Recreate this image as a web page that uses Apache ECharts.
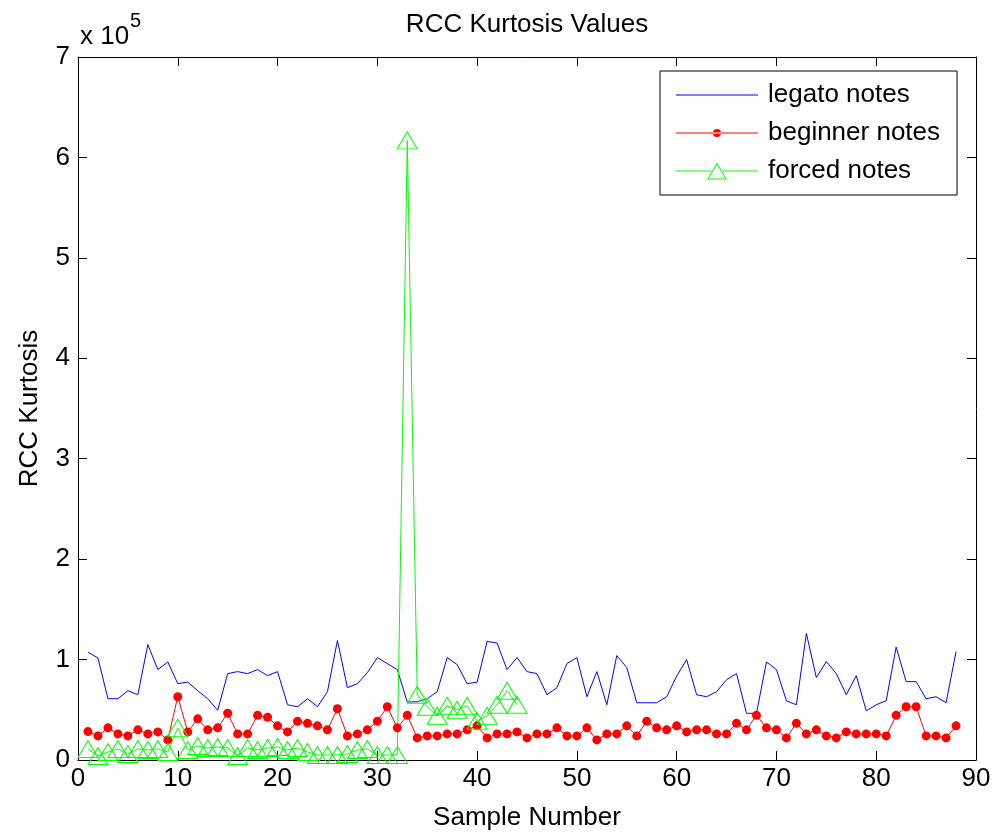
<!DOCTYPE html>
<html>
<head>
<meta charset="utf-8">
<script src="https://cdn.jsdelivr.net/npm/echarts@6/dist/echarts.min.js"></script>
<style>
html,body{margin:0;padding:0;background:#fff;}
#chart{width:997px;height:836px;}
</style>
</head>
<body>
<div id="chart"></div>
<script>
// Values in units of 10^5; sample numbers start at 1
var legato = [1.075,1.016,0.61,0.61,0.69,0.65,1.15,0.90,0.976,0.76,
  0.775,0.69,0.61,0.495,0.86,0.88,0.86,0.90,0.84,0.88,
  0.55,0.53,0.61,0.53,0.68,1.19,0.72,0.76,0.87,1.02,
  0.96,0.90,0.577,0.58,0.61,0.68,1.02,0.95,0.76,0.775,
  1.18,1.165,0.90,1.02,0.88,0.86,0.65,0.72,0.96,1.02,
  0.63,0.88,0.55,1.04,0.92,0.57,0.57,0.57,0.63,0.835,
  1.0,0.65,0.63,0.68,0.80,0.86,0.465,0.465,0.976,0.90,
  0.59,0.55,1.26,0.82,0.98,0.86,0.65,0.84,0.49,0.55,
  0.59,1.125,0.78,0.78,0.61,0.63,0.57,1.08];
var beginner = [0.283,0.24,0.32,0.26,0.24,0.30,0.26,0.28,0.20,0.63,
  0.28,0.41,0.30,0.32,0.465,0.26,0.26,0.445,0.425,0.34,
  0.28,0.385,0.365,0.34,0.30,0.51,0.24,0.26,0.30,0.385,
  0.53,0.32,0.445,0.22,0.24,0.24,0.26,0.26,0.30,0.34,
  0.22,0.26,0.26,0.28,0.22,0.26,0.26,0.32,0.24,0.24,
  0.32,0.20,0.26,0.26,0.34,0.24,0.385,0.32,0.30,0.34,
  0.28,0.30,0.30,0.26,0.26,0.365,0.30,0.445,0.32,0.30,
  0.22,0.365,0.26,0.30,0.24,0.22,0.28,0.26,0.26,0.26,
  0.24,0.445,0.53,0.53,0.24,0.24,0.22,0.34];
var forced = [0.11,0.04,0.08,0.11,0.06,0.11,0.10,0.11,0.08,0.32,
  0.10,0.14,0.12,0.13,0.12,0.04,0.12,0.10,0.12,0.13,
  0.10,0.12,0.08,0.05,0.05,0.05,0.06,0.10,0.11,0.05,
  0.05,0.05,6.17,0.65,0.53,0.44,0.54,0.50,0.54,0.39,
  0.44,0.55,0.69,0.55];
var seriesNames = ['legato notes','beginner notes','forced notes'];
var xTicks = {min:0, max:90, interval:10};
var yTicks = {min:0, max:7, interval:1};

function pairs(arr){ return arr.map(function(v,i){ return [i+1, v]; }); }

var FONT = '"Liberation Sans", Arial, sans-serif';
var FS = 26;

// legend icons: line (+ marker) drawn in a 87x18 box, line occupying 0..82
var BOX = 'M0,0h0.01v0.01h-0.01z M86.99,17.99h0.01v0.01h-0.01z ';
var iconLegato = 'path://' + BOX + 'M0,8.5h82v1h-82z';
var iconBeginner = 'path://' + BOX + 'M0,8.5h82v1h-82z M37,9a4,4 0 1,0 8,0a4,4 0 1,0 -8,0z';
var iconForced = 'path://' + BOX + 'M0,8.5h35v1h-35z M47,8.5h35v1h-35z ' +
  'M41,0.5L51,17.5L31,17.5z M41,2.5L32.8,16.5L49.2,16.5z';

var chart = echarts.init(document.getElementById('chart'), null, {renderer:'canvas'});
var axisCommon = {
  axisLine:{show:true, onZero:false, lineStyle:{color:'#000', width:1}},
  axisTick:{show:true, inside:true, length:9, lineStyle:{color:'#000', width:1}},
  splitLine:{show:false}
};
chart.setOption({
  animation:false,
  backgroundColor:'#fff',
  grid:{left:78, right:21, top:57, bottom:72, containLabel:false},
  xAxis:[
    Object.assign({type:'value', min:xTicks.min, max:xTicks.max, interval:xTicks.interval, position:'bottom',
      name:'Sample Number', nameLocation:'middle', nameGap:45,
      nameTextStyle:{color:'#000', fontSize:FS, fontFamily:FONT},
      axisLabel:{color:'#000', fontSize:FS, fontFamily:FONT, margin:6}}, axisCommon),
    Object.assign({type:'value', min:xTicks.min, max:xTicks.max, interval:xTicks.interval, position:'top',
      axisLabel:{show:false}}, axisCommon)
  ],
  yAxis:[
    Object.assign({type:'value', min:yTicks.min, max:yTicks.max, interval:yTicks.interval, position:'left',
      name:'RCC Kurtosis', nameLocation:'middle', nameGap:35,
      nameTextStyle:{color:'#000', fontSize:FS, fontFamily:FONT},
      axisLabel:{color:'#000', fontSize:FS, fontFamily:FONT, margin:8}}, axisCommon),
    Object.assign({type:'value', min:yTicks.min, max:yTicks.max, interval:yTicks.interval, position:'right',
      axisLabel:{show:false}}, axisCommon)
  ],
  legend:{
    orient:'vertical', left:660, top:71,
    backgroundColor:'#fff', borderColor:'#000', borderWidth:1, borderRadius:0,
    padding:[11,17,11,16], itemWidth:87, itemHeight:18, itemGap:12,
    textStyle:{color:'#000', fontSize:FS, fontFamily:FONT},
    data:[
      {name:seriesNames[0], icon:iconLegato, itemStyle:{color:'#0000ff', borderWidth:0}},
      {name:seriesNames[1], icon:iconBeginner, itemStyle:{color:'#ff0000', borderWidth:0}},
      {name:seriesNames[2], icon:iconForced, itemStyle:{color:'#00ff00', borderWidth:0}}
    ]
  },
  graphic:[
    {type:'text', x:527, y:12, style:{text:'RCC Kurtosis Values', fill:'#000', font:FS+'px '+FONT, textAlign:'center'}},
    {type:'text', x:80, y:24, style:{text:'x 10', fill:'#000', font:FS+'px '+FONT}},
    {type:'text', x:130, y:11, style:{text:'5', fill:'#000', font:'20px '+FONT}}
  ],
  series:[
    {name:seriesNames[0], type:'line', data:pairs(legato), showSymbol:false, symbol:'none',
      lineStyle:{color:'#0000ff', width:1}, itemStyle:{color:'#0000ff'}},
    {name:seriesNames[1], type:'line', data:pairs(beginner), symbol:'circle', symbolSize:9,
      lineStyle:{color:'#ff0000', width:1}, itemStyle:{color:'#ff0000'}},
    {name:seriesNames[2], type:'line', data:pairs(forced), symbol:'triangle', symbolSize:[20,17],
      lineStyle:{color:'#00ff00', width:1}, itemStyle:{color:'rgba(0,0,0,0)', borderColor:'#00ff00', borderWidth:1}}
  ]
});
</script>
</body>
</html>
